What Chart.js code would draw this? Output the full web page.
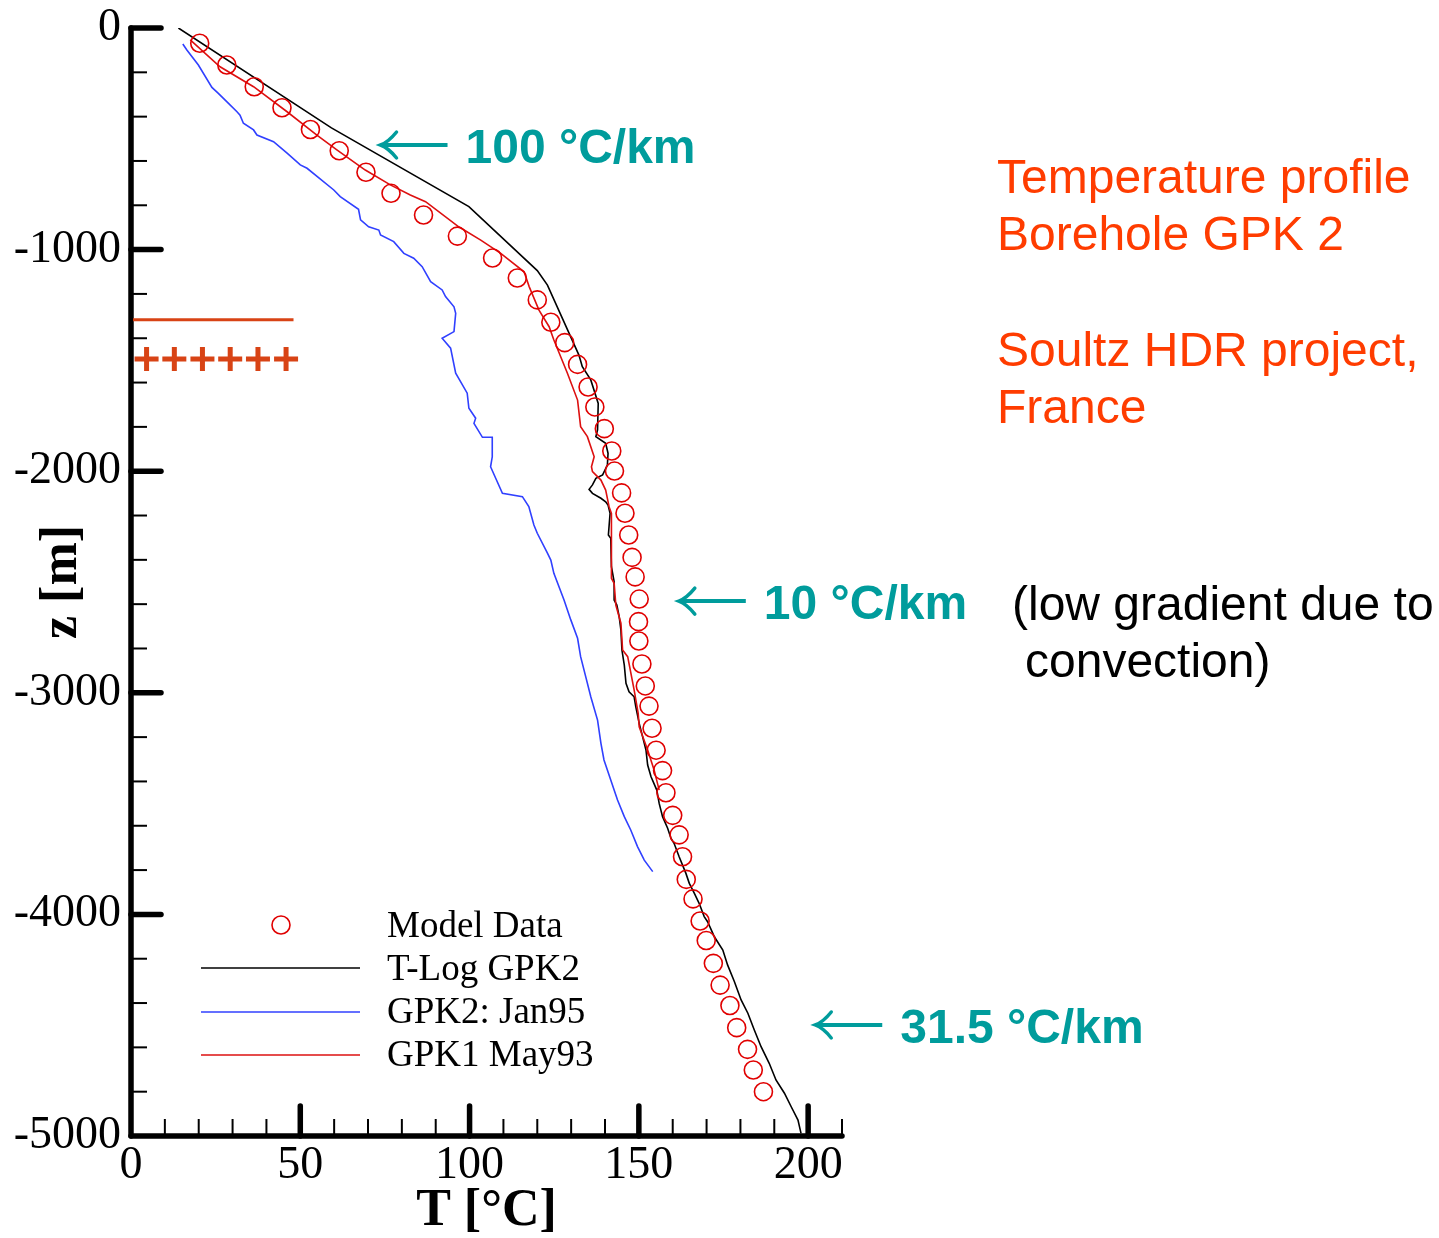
<!DOCTYPE html>
<html>
<head>
<meta charset="utf-8">
<script src="https://cdn.jsdelivr.net/npm/chart.js@4.4.1/dist/chart.umd.min.js"></script>
<style>
  html, body { margin: 0; padding: 0; background: #fff; }
</style>
</head>
<body>
<canvas id="temp-profile-chart" width="1439" height="1238"></canvas>
<script>

// model data (circles)
var model_T = [20.3, 28.3, 36.4, 44.6, 53.0, 61.5, 69.4, 76.8, 86.4, 96.4,
  106.8, 114.1, 120.0, 124.0, 128.1, 131.9, 135.0, 137.0, 139.8, 142.0,
  142.8, 144.9, 145.9, 147.0, 148.0, 148.9, 150.1, 149.9, 150.0, 150.9,
  151.9, 153.0, 153.9, 155.1, 157.0, 158.0, 160.0, 161.9, 162.9, 164.0,
  166.0, 168.1, 169.9, 172.0, 174.0, 176.9, 178.9, 182.1, 183.8, 186.8];
var model_z = [-69, -167, -265, -360, -458, -554, -651, -746, -844, -939,
  -1038, -1128, -1227, -1328, -1420, -1518, -1620, -1710, -1808, -1909,
  -1999, -2098, -2190, -2288, -2389, -2477, -2577, -2679, -2766, -2870,
  -2969, -3060, -3160, -3259, -3351, -3451, -3553, -3641, -3740, -3842,
  -3930, -4030, -4118, -4221, -4319, -4411, -4511, -4609, -4702, -4800];

// T-Log GPK2
var tlog_T = [14.0, 59.2, 99.8, 120.0, 123.0, 132.3, 133.3, 135.8, 138.0, 137.8,
  137.3, 140.2, 140.9, 140.7, 139.3, 137.3, 136.3, 135.3, 136.3, 138.8,
  140.2, 140.9, 141.5, 141.0, 141.7, 141.9, 142.7, 142.7, 143.5, 144.2,
  144.7, 145.0, 145.7, 146.2, 147.1, 148.6, 149.1, 150.1, 151.1, 152.1,
  152.6, 153.6, 155.3, 156.0, 157.0, 158.5, 159.5, 160.4, 161.9, 163.9,
  164.9, 166.4, 167.8, 169.3, 170.3, 172.3, 174.8, 176.2, 178.2, 180.2,
  182.2, 184.1, 186.1, 188.5, 190.5, 193.0, 195.0, 197.0, 197.9];
var tlog_z = [0, -451, -806, -1095, -1160, -1476, -1528, -1588, -1694, -1814,
  -1844, -1874, -1919, -1972, -2017, -2032, -2062, -2082, -2100, -2122,
  -2138, -2153, -2190, -2288, -2303, -2431, -2499, -2581, -2604, -2657,
  -2717, -2807, -2875, -2957, -2995, -3018, -3063, -3138, -3198, -3258,
  -3326, -3379, -3439, -3499, -3559, -3611, -3657, -3679, -3740, -3815,
  -3860, -3905, -3950, -4010, -4033, -4101, -4161, -4228, -4303, -4386,
  -4446, -4522, -4597, -4672, -4747, -4807, -4868, -4928, -4988];

// GPK2: Jan95
var jan95_T = [15.3, 16.5, 19.9, 23.9, 25.8, 28.8, 31.3, 32.2, 33.2, 36.2,
  37.2, 42.1, 46.1, 50.0, 52.0, 59.9, 61.8, 67.2, 67.8, 70.2,
  73.2, 73.7, 77.6, 80.6, 83.5, 86.0, 88.5, 91.9, 92.9, 95.4,
  95.9, 95.4, 91.9, 94.4, 95.9, 99.3, 99.8, 101.8, 101.3, 103.8,
  106.7, 106.7, 106.2, 109.7, 115.6, 117.5, 119.0, 120.0, 123.0, 124.0,
  124.9, 127.9, 129.9, 131.9, 132.8, 134.3, 135.8, 137.8, 138.8, 139.7,
  141.7, 143.7, 145.7, 147.6, 149.6, 151.6, 154.1];
var jan95_z = [-72, -99, -167, -268, -295, -340, -378, -393, -430, -460,
  -483, -513, -565, -618, -633, -731, -761, -818, -866, -897,
  -912, -934, -964, -1017, -1039, -1077, -1145, -1182, -1212, -1258,
  -1287, -1370, -1400, -1445, -1558, -1648, -1716, -1761, -1784, -1847,
  -1847, -1935, -1980, -2100, -2115, -2160, -2243, -2280, -2370, -2401,
  -2461, -2581, -2671, -2754, -2837, -2927, -3018, -3123, -3228, -3303,
  -3394, -3484, -3559, -3619, -3694, -3755, -3807];

// GPK1 May93
var may93_T = [17.5, 26.3, 36.2, 46.1, 54.9, 60.9, 69.2, 76.6, 82.5, 87.0,
  96.8, 103.3, 109.2, 116.1, 117.6, 120.5, 123.5, 124.9, 128.9, 131.9,
  132.8, 134.8, 136.8, 136.0, 136.3, 138.8, 140.2, 141.2, 141.9, 141.9,
  142.7, 143.2, 144.7, 145.2, 146.7, 148.6, 149.8, 150.1, 152.6, 154.5, 156.0];
var may93_z = [-54, -175, -265, -378, -483, -551, -641, -708, -754, -784,
  -897, -957, -1017, -1100, -1167, -1273, -1348, -1408, -1558, -1679,
  -1799, -1844, -1935, -1980, -2002, -2040, -2085, -2160, -2190, -2483,
  -2506, -2604, -2686, -2807, -2837, -2987, -3093, -3153, -3258, -3348, -3439];

// leftover marks at the left axis (line + crosses)
var mark_line_T = [0.6, 48];
var mark_line_z = [-1316, -1316];
var mark_cross_T = [4.6, 12.8, 21.1, 29.3, 37.5, 45.8];
var mark_cross_z = [-1494, -1494, -1494, -1494, -1494, -1494];

// gradient arrows: tip position in data units and the label
var arrow_T = [73.7, 161.8, 202.1];
var arrow_z = [-528, -2586, -4499];
var arrow_labels = ['100 °C/km', '10 °C/km', '31.5 °C/km'];

function pairs(xs, ys) {
  return xs.map(function (v, i) { return {x: v, y: ys[i]}; });
}

var TEAL = '#009c9c';
var ORANGE = '#ff3c00';

const frame_plugin = {
  id: 'frame',
  beforeDatasetsDraw(chart) {
    const ctx = chart.ctx;
    const xs = chart.scales.x, ys = chart.scales.y;
    const a = chart.chartArea;
    ctx.save();
    ctx.strokeStyle = '#000';
    function seg(x1, y1, x2, y2) { ctx.beginPath(); ctx.moveTo(x1, y1); ctx.lineTo(x2, y2); ctx.stroke(); }
    ctx.lineWidth = 2;
    for (let t = 10; t <= 210; t += 10) {
      if (t % 50 === 0) continue;
      const px = xs.getPixelForValue(t);
      seg(px, a.bottom, px, a.bottom - 17);
    }
    for (let z = -4800; z < 0; z += 200) {
      if (z % 1000 === 0) continue;
      const py = ys.getPixelForValue(z);
      seg(a.left, py, a.left + 16, py);
    }
    ctx.lineWidth = 5.5;
    ctx.lineCap = 'round';
    for (let t = 50; t <= 200; t += 50) {
      const px = xs.getPixelForValue(t);
      seg(px, a.bottom, px, a.bottom - 30);
    }
    for (let z = -4000; z <= 0; z += 1000) {
      const py = ys.getPixelForValue(z);
      seg(a.left, py, a.left + 30, py);
    }
    seg(a.left, a.top, a.left, a.bottom);
    seg(a.left, a.bottom, a.right, a.bottom);
    ctx.restore();
  },
  afterDraw(chart) {
    const ctx = chart.ctx;
    const xs = chart.scales.x, ys = chart.scales.y;
    ctx.save();

    // legend
    const ds = chart.data.datasets;
    ctx.textBaseline = 'alphabetic';
    ctx.font = '37px "Liberation Serif"';
    ctx.fillStyle = '#000';
    ctx.beginPath();
    ctx.arc(281, 925, 9, 0, Math.PI * 2);
    ctx.strokeStyle = ds[0].borderColor;
    ctx.lineWidth = 1.6;
    ctx.stroke();
    ctx.fillText('Model Data', 387, 937);
    const rows = [[1, 968, 980], [2, 1012, 1023], [3, 1055, 1066]];
    rows.forEach(function (r) {
      ctx.strokeStyle = ds[r[0]].borderColor;
      ctx.lineWidth = 1.6;
      ctx.beginPath(); ctx.moveTo(201, r[1]); ctx.lineTo(360, r[1]); ctx.stroke();
      ctx.fillText(ds[r[0]].label, 387, r[2]);
    });

    // gradient arrows
    ctx.strokeStyle = TEAL;
    ctx.fillStyle = TEAL;
    ctx.font = 'bold 48px "Liberation Sans"';
    arrow_T.forEach(function (t, i) {
      const px = xs.getPixelForValue(t), py = ys.getPixelForValue(arrow_z[i]);
      ctx.lineWidth = 4;
      ctx.lineCap = 'butt';
      ctx.beginPath(); ctx.moveTo(px + 2, py); ctx.lineTo(px + 67, py); ctx.stroke();
      ctx.lineWidth = 3.5;
      ctx.lineCap = 'round';
      ctx.beginPath();
      ctx.moveTo(px + 16, py - 13);
      ctx.quadraticCurveTo(px + 8, py - 3, px, py);
      ctx.quadraticCurveTo(px + 8, py + 3, px + 16, py + 13);
      ctx.stroke();
      ctx.fillText(arrow_labels[i], px + 85, py + 18);
    });

    // side notes
    ctx.font = '48px "Liberation Sans"';
    ctx.fillStyle = ORANGE;
    ctx.fillText('Temperature profile', 997, 193);
    ctx.fillText('Borehole GPK 2', 997, 250);
    ctx.fillText('Soultz HDR project,', 997, 366);
    ctx.fillText('France', 997, 423);
    ctx.fillStyle = '#000';
    ctx.fillText('(low gradient due to', 1012, 620);
    ctx.fillText('convection)', 1025, 677);
    ctx.restore();
  }
};

const data_profile = {
  datasets: [{
    label: 'Model Data',
    data: pairs(model_T, model_z),
    showLine: false,
    pointStyle: 'circle',
    pointRadius: 9,
    pointHoverRadius: 9,
    borderColor: '#e00000',
    backgroundColor: 'rgba(0,0,0,0)',
    pointBorderWidth: 1.6,
    order: 0
  }, {
    label: 'T-Log GPK2',
    data: pairs(tlog_T, tlog_z),
    showLine: true,
    pointRadius: 0,
    borderColor: '#000000',
    borderWidth: 1.6,
    tension: 0,
    order: 3
  }, {
    label: 'GPK2: Jan95',
    data: pairs(jan95_T, jan95_z),
    showLine: true,
    pointRadius: 0,
    borderColor: '#3040ff',
    borderWidth: 1.6,
    tension: 0,
    order: 2
  }, {
    label: 'GPK1 May93',
    data: pairs(may93_T, may93_z),
    showLine: true,
    pointRadius: 0,
    borderColor: '#dd1010',
    borderWidth: 1.6,
    tension: 0,
    order: 1
  }, {
    label: 'mark line',
    data: pairs(mark_line_T, mark_line_z),
    showLine: true,
    pointRadius: 0,
    borderColor: '#d84315',
    borderWidth: 3,
    order: 4
  }, {
    label: 'mark cross',
    data: pairs(mark_cross_T, mark_cross_z),
    showLine: false,
    pointStyle: 'cross',
    pointRadius: 12,
    pointHoverRadius: 12,
    borderColor: '#d84315',
    pointBorderWidth: 5,
    order: 4
  }]
};

const config_profile = {
  type: 'scatter',
  data: data_profile,
  plugins: [frame_plugin],
  options: {
    responsive: false,
    animation: false,
    devicePixelRatio: 1,
    layout: { padding: { left: 0, top: 28, right: 597, bottom: 0 } },
    plugins: { legend: { display: false }, tooltip: { enabled: false } },
    scales: {
      x: {
        type: 'linear',
        position: 'bottom',
        min: 0,
        max: 210,
        grid: { display: false, drawTicks: false },
        border: { display: false },
        ticks: {
          stepSize: 50,
          includeBounds: false,
          padding: 2,
          color: '#000',
          maxRotation: 0,
          font: { family: '"Liberation Serif"', size: 46 },
          callback: function (v) { return String(v); }
        },
        title: {
          display: true,
          text: 'T [°C]',
          color: '#000',
          padding: { top: 0, bottom: 0 },
          font: { family: '"Liberation Serif"', size: 52, weight: 'bold', lineHeight: 1 }
        },
        afterFit: function (s) { s.height = 102; s.paddingLeft = 0; s.paddingRight = 0; }
      },
      y: {
        type: 'linear',
        position: 'left',
        min: -5000,
        max: 0,
        grid: { display: false, drawTicks: false },
        border: { display: false },
        ticks: {
          stepSize: 1000,
          includeBounds: false,
          padding: 10,
          color: '#000',
          font: { family: '"Liberation Serif"', size: 46 },
          callback: function (v) { return String(v); }
        },
        title: {
          display: true,
          text: 'z [m]',
          color: '#000',
          padding: { top: 31, bottom: 0 },
          font: { family: '"Liberation Serif"', size: 52, weight: 'bold' }
        },
        afterFit: function (s) { s.width = 131; s.paddingTop = 0; s.paddingBottom = 0; }
      }
    }
  }
};

const temp_profile_chart = new Chart(
  document.getElementById('temp-profile-chart'),
  config_profile
);
</script>
</body>
</html>
